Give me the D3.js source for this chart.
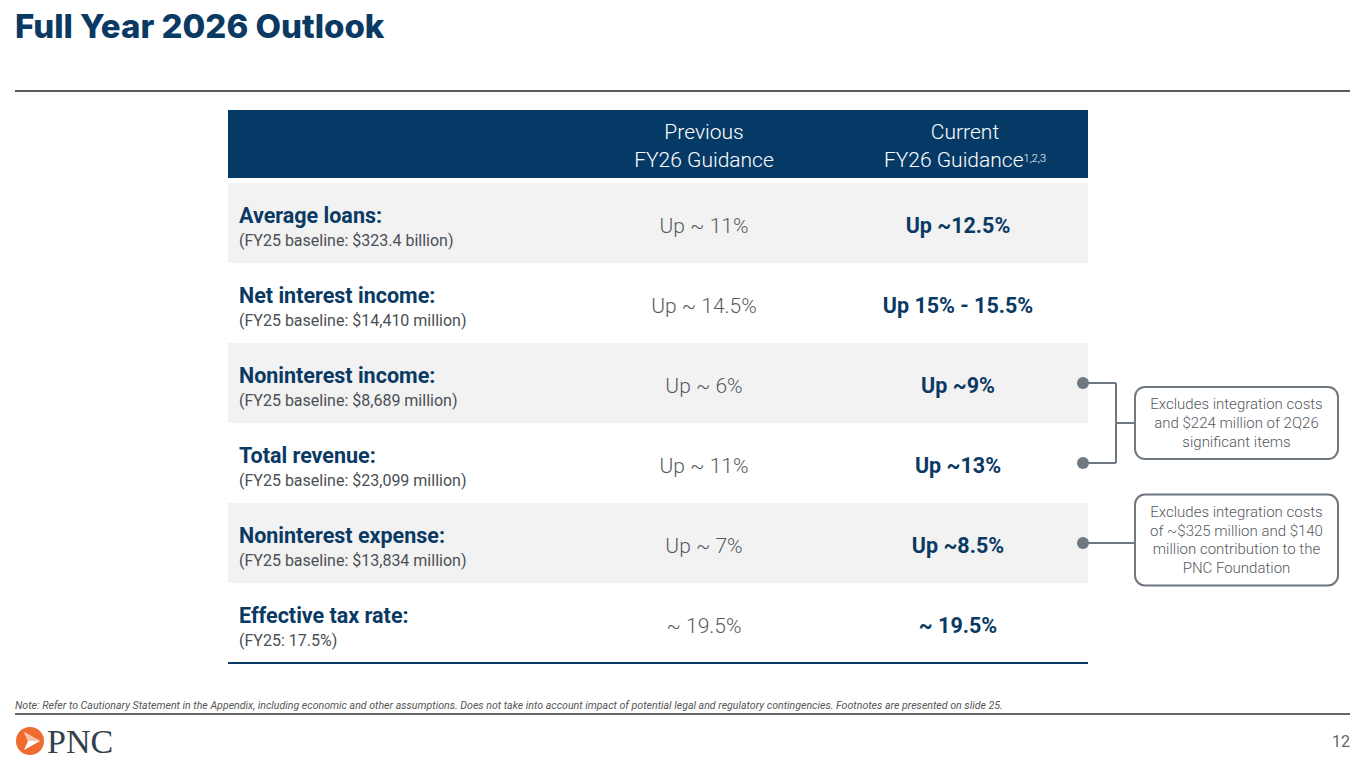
<!DOCTYPE html>
<html>
<head>
<meta charset="utf-8">
<script src="https://cdn.jsdelivr.net/npm/d3@7"></script>
<style>
  body { margin: 0; background: #fff; }
  svg { display: block; font-family: Roboto, "Noto Sans", sans-serif; }
</style>
</head>
<body>
<svg id="slide" width="1365" height="768"></svg>
<script>
// table content
const metrics = ["Average loans:", "Net interest income:", "Noninterest income:", "Total revenue:", "Noninterest expense:", "Effective tax rate:"];
const baselines = ["(FY25 baseline: $323.4 billion)", "(FY25 baseline: $14,410 million)", "(FY25 baseline: $8,689 million)", "(FY25 baseline: $23,099 million)", "(FY25 baseline: $13,834 million)", "(FY25: 17.5%)"];
const previousGuidance = ["Up ~ 11%", "Up ~ 14.5%", "Up ~ 6%", "Up ~ 11%", "Up ~ 7%", "~ 19.5%"];
const currentGuidance = ["Up ~12.5%", "Up 15% - 15.5%", "Up ~9%", "Up ~13%", "Up ~8.5%", "~ 19.5%"];
const columns = ["label", "Previous", "Current"];

// callout notes: which rows they point at
const noteRows = [[2, 3], [4]];
const noteLines = [
  ["Excludes integration costs", "and $224 million of 2Q26", "significant items"],
  ["Excludes integration costs", "of ~$325 million and $140", "million contribution to the", "PNC Foundation"]
];

const navy = "#0a3a64", grey = "#555b63", dotGrey = "#6f7780";

let width = 1365, height = 768;
let svg = d3.select("#slide");

// title and rules
svg.append("text")
  .attr("x", 15).attr("y", 38)
  .style("font-family", "Inter, sans-serif")
  .style("font-weight", 800)
  .style("font-size", "33px")
  .attr("fill", navy)
  .text("Full Year 2026 Outlook");

svg.append("line")
  .attr("x1", 15).attr("x2", 1350).attr("y1", 91).attr("y2", 91)
  .attr("stroke", "#5a5a5a").attr("stroke-width", 2);

// table scales
const tableLeft = 228, tableRight = 1088;
const yScale = d3.scaleBand()
  .domain(d3.range(metrics.length))
  .range([183, 663]);

const xScale = d3.scaleOrdinal()
  .domain(columns)
  .range([239, 704, 958]);

// header band
svg.append("rect")
  .attr("x", tableLeft).attr("y", 110)
  .attr("width", tableRight - tableLeft).attr("height", 68)
  .attr("fill", "#063a66");

let header = svg.append("g").attr("fill", "#fff").style("font-size", "21px").style("font-weight", 300).attr("text-anchor", "middle");
header.append("text").attr("x", xScale("Previous")).attr("y", 139).text("Previous");
header.append("text").attr("x", xScale("Previous")).attr("y", 167).text("FY26 Guidance");
header.append("text").attr("x", xScale("Current") + 7).attr("y", 139).text("Current");
let cur = header.append("text").attr("x", xScale("Current") + 7).attr("y", 167);
cur.append("tspan").text("FY26 Guidance");
cur.append("tspan").attr("dy", -5).style("font-size", "11px").text("1,2,3");

// rows
let rows = svg.selectAll("g.row")
  .data(metrics)
  .enter()
  .append("g")
  .attr("class", "row")
  .attr("transform", (d, i) => "translate(0," + yScale(i) + ")");

rows.append("rect")
  .attr("x", tableLeft)
  .attr("width", tableRight - tableLeft)
  .attr("height", yScale.bandwidth())
  .attr("fill", (d, i) => i % 2 == 0 ? "#f2f2f2" : "#fff");

rows.append("text")
  .attr("x", xScale("label")).attr("y", 40)
  .attr("fill", navy)
  .style("font-weight", 700)
  .style("font-size", "21.5px")
  .text(d => d);

rows.append("text")
  .attr("x", xScale("label")).attr("y", 63)
  .attr("fill", "#4a4f55")
  .style("font-size", "16px")
  .text((d, i) => baselines[i]);

rows.append("text")
  .attr("x", xScale("Previous")).attr("y", 50)
  .attr("text-anchor", "middle")
  .attr("fill", grey)
  .style("font-size", "21px")
  .style("font-weight", 300)
  .text((d, i) => previousGuidance[i]);

rows.append("text")
  .attr("x", xScale("Current")).attr("y", 50)
  .attr("text-anchor", "middle")
  .attr("fill", navy)
  .style("font-weight", 700)
  .style("font-size", "21.5px")
  .text((d, i) => currentGuidance[i]);

svg.append("line")
  .attr("x1", tableLeft).attr("x2", tableRight)
  .attr("y1", yScale.range()[1]).attr("y2", yScale.range()[1])
  .attr("stroke", navy).attr("stroke-width", 2);

// callouts
const rowMid = i => yScale(i) + yScale.bandwidth() / 2;
const dotX = 1083, bracketX = 1116, boxX = 1135, boxW = 203;
const lineH = 18.7;

noteRows.forEach((rs, n) => {
  let g = svg.append("g");
  let ys = rs.map(rowMid);
  let midY = d3.mean(ys);
  if (rs.length > 1) {
    ys.forEach(y => g.append("line").attr("x1", dotX).attr("x2", bracketX).attr("y1", y).attr("y2", y));
    g.append("line").attr("x1", bracketX).attr("x2", bracketX).attr("y1", ys[0]).attr("y2", ys[ys.length - 1]);
    g.append("line").attr("x1", bracketX).attr("x2", boxX).attr("y1", midY).attr("y2", midY);
  } else {
    g.append("line").attr("x1", dotX).attr("x2", boxX).attr("y1", midY).attr("y2", midY);
  }
  g.selectAll("line").attr("stroke", dotGrey).attr("stroke-width", 2);
  g.selectAll("circle")
    .data(ys)
    .enter()
    .append("circle")
    .attr("cx", dotX).attr("cy", y => y).attr("r", 6)
    .attr("fill", dotGrey);

  let lines = noteLines[n];
  let boxH = lines.length * lineH + 16;
  let boxMid = rs.length > 1 ? midY : midY - 3;
  g.append("rect")
    .attr("x", boxX).attr("y", boxMid - boxH / 2)
    .attr("width", boxW).attr("height", boxH)
    .attr("rx", 10).attr("ry", 10)
    .attr("fill", "#fff").attr("stroke", dotGrey).attr("stroke-width", 2);
  g.selectAll("text.note")
    .data(lines)
    .enter()
    .append("text")
    .attr("class", "note")
    .attr("x", boxX + boxW / 2)
    .attr("y", (l, k) => boxMid + (k - (lines.length - 1) / 2) * lineH + 5)
    .attr("text-anchor", "middle")
    .attr("fill", "#55595e")
    .style("font-size", "15px")
    .style("font-weight", 300)
    .text(l => l);
});

// footer
svg.append("text")
  .attr("x", 15).attr("y", 709)
  .attr("fill", "#555")
  .style("font-size", "10.6px")
  .style("font-style", "italic")
  .text("Note: Refer to Cautionary Statement in the Appendix, including economic and other assumptions. Does not take into account impact of potential legal and regulatory contingencies. Footnotes are presented on slide 25.");

svg.append("line")
  .attr("x1", 15).attr("x2", 1350).attr("y1", 714).attr("y2", 714)
  .attr("stroke", "#333").attr("stroke-width", 1.5);

// PNC logo
let logo = svg.append("g").attr("transform", "translate(30,741)");
logo.append("circle").attr("r", 14).attr("fill", "#ef6b2f");
logo.append("path")
  .attr("d", "M-6,-9 L10,0 L-6,9 L-2,0 Z")
  .attr("fill", "#fff");
logo.append("path")
  .attr("d", "M-6,-9 L-2,0 L10,0 Z")
  .attr("fill", "#f7c3a8");
svg.append("text")
  .attr("x", 47).attr("y", 753)
  .style("font-family", "'Liberation Serif', 'DejaVu Serif', serif")
  .style("font-size", "34px")
  .attr("fill", "#34404d")
  .text("PNC");

svg.append("text")
  .attr("x", 1350).attr("y", 747)
  .attr("text-anchor", "end")
  .attr("fill", "#666")
  .style("font-size", "16px")
  .text("12");
</script>
</body>
</html>
